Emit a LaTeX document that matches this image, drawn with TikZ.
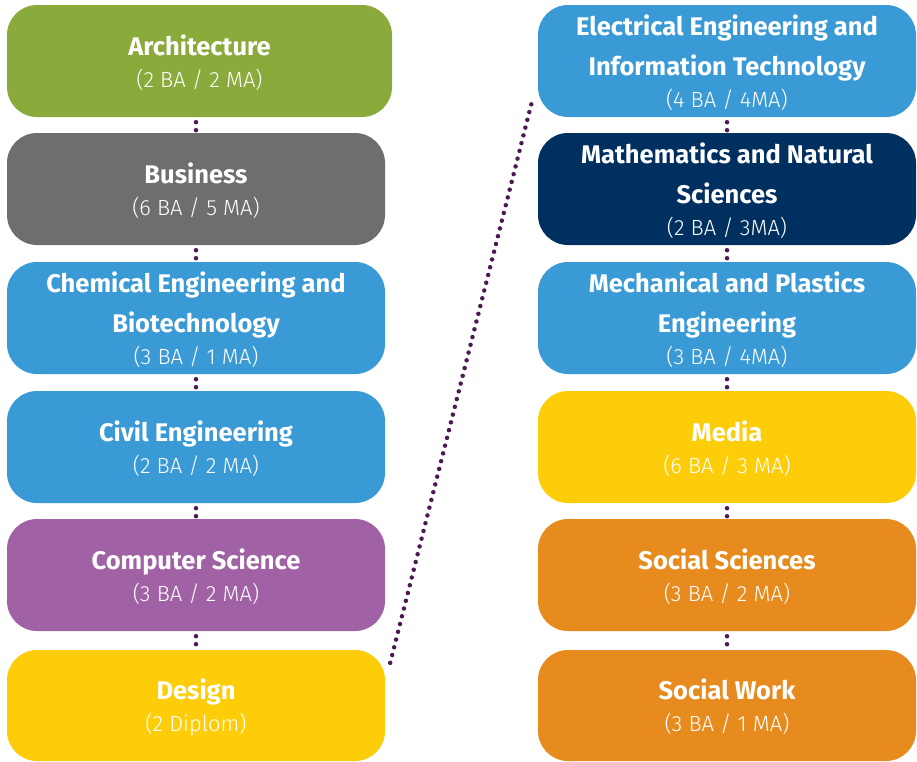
\documentclass[tikz,border=0pt]{standalone}
\usepackage{fontspec}
\setmainfont{Fira Sans}
\newfontfamily\thinfont{Fira Sans Light}
\usetikzlibrary{positioning,calc}

\definecolor{archgreen}{HTML}{8AAA3C}
\definecolor{busgray}{HTML}{6D6E70}
\definecolor{engblue}{HTML}{3A9AD6}
\definecolor{csviolet}{HTML}{A062A4}
\definecolor{sunyellow}{HTML}{FDCD0A}
\definecolor{sciNavy}{HTML}{003060}
\definecolor{socorange}{HTML}{E88B1E}
\definecolor{dotpurple}{HTML}{4A1A50}

\newcommand{\degs}[1]{\\[-8pt]\smash{\thinfont\mdseries\fontsize{22}{24}\selectfont(#1)}}

\tikzset{
  dept/.style={rounded corners=30pt, minimum width=378pt, minimum height=112pt,
    text=white, align=center, inner sep=0pt,
    font=\fontsize{25.5}{40}\selectfont\bfseries},
  link/.style={draw=dotpurple, line width=4.5pt, line cap=round,
    dash pattern=on 0pt off 8pt, shorten <=5pt, shorten >=2pt}
}

\begin{document}
\begin{tikzpicture}[x=1pt,y=1pt]
  \useasboundingbox (0,0) rectangle (917,-761);

  % left column
  \node[dept, fill=archgreen, minimum width=385pt] (arch) at (199.5,-61) {Architecture\degs{2 BA / 2 MA}};
  \node[dept, fill=busgray] (bus) at (196,-189) {Business\degs{6 BA / 5 MA}};
  \node[dept, fill=engblue] (chem) at (196,-318) {Chemical Engineering and\\Biotechnology\degs{3 BA / 1 MA}};
  \node[dept, fill=engblue] (civil) at (196,-447) {Civil Engineering\degs{2 BA / 2 MA}};
  \node[dept, fill=csviolet] (cs) at (196,-575) {Computer Science\degs{3 BA / 2 MA}};
  \node[dept, fill=sunyellow, minimum height=111pt] (design) at (196,-705.5) {Design\degs{2 Diplom}};

  % right column
  \node[dept, fill=engblue] (eit) at (727,-61) {Electrical Engineering and\\Information Technology\degs{4 BA / 4MA}};
  \node[dept, fill=sciNavy] (math) at (727,-189) {Mathematics and Natural\\Sciences\degs{2 BA / 3MA}};
  \node[dept, fill=engblue] (mech) at (727,-318) {Mechanical and Plastics\\Engineering\degs{3 BA / 4MA}};
  \node[dept, fill=sunyellow] (media) at (727,-447) {Media\degs{6 BA / 3 MA}};
  \node[dept, fill=socorange] (socsci) at (727,-575) {Social Sciences\degs{3 BA / 2 MA}};
  \node[dept, fill=socorange, minimum height=111pt] (socwork) at (727,-705.5) {Social Work\degs{3 BA / 1 MA}};

  % dotted links
  \draw[link] (bus.north |- arch.south) -- (bus.north);
  \draw[link] (bus.south) -- (chem.north);
  \draw[link] (chem.south) -- (civil.north);
  \draw[link] (civil.south) -- (cs.north);
  \draw[link] (cs.south) -- (design.north);
  \draw[link] (eit.south) -- (math.north);
  \draw[link] (math.south) -- (mech.north);
  \draw[link] (mech.south) -- (media.north);
  \draw[link] (media.south) -- (socsci.north);
  \draw[link] (socsci.south) -- (socwork.north);
  \draw[link, shorten <=0pt, shorten >=0pt] ($(design.north east)+(5,-13)$) -- ($(eit.south west)+(-5,19)$);
\end{tikzpicture}
\end{document}
